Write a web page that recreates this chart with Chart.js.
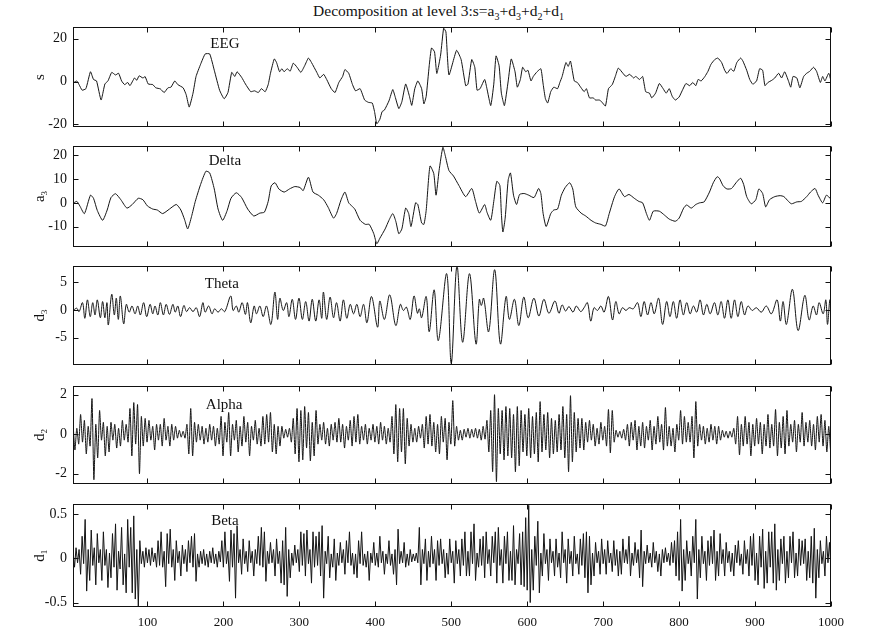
<!DOCTYPE html>
<html>
<head>
<meta charset="utf-8">
<script src="https://cdn.jsdelivr.net/npm/chart.js@4/dist/chart.umd.min.js"></script>
<style>
html, body { margin: 0; padding: 0; background: #fff; }
#wrap { position: relative; width: 877px; height: 644px; overflow: hidden; }
#title { position: absolute; left: 0; top: 2px; width: 877px; text-align: center;
  font: 15.5px "Liberation Serif", "Times New Roman", serif; color: #111; line-height: 17px; }
#title sub { font-size: 10px; }
canvas { position: absolute; left: 0; }
</style>
</head>
<body>
<div id="wrap">
  <div id="title">Decomposition at level 3:s=a<sub>3</sub>+d<sub>3</sub>+d<sub>2</sub>+d<sub>1</sub></div>
  <canvas id="c1"></canvas>
  <canvas id="c2"></canvas>
  <canvas id="c3"></canvas>
  <canvas id="c4"></canvas>
  <canvas id="c5"></canvas>
</div>
<script>
// sample ticks shared by all panels
const xTickVals = [100, 200, 300, 400, 500, 600, 700, 800, 900, 1000];

// y ticks of each panel
const eegTicks = [-20, 0, 20];
const deltaTicks = [-10, 0, 10, 20];
const thetaTicks = [-5, 0, 5];
const alphaTicks = [-2, 0, 2];
const betaTicks = [-0.5, 0, 0.5];

// s : [sample, value]
const eegPoints = [[3,-0.4],[7,0.3],[10,-1.4],[14,-4],[19,-3.3],[25,4.6],[29,1],[33,0.3],[39,-8.6],[44,-1.1],[48,0.3],[53,4.3],[58,3.1],[62,3.9],[66,0.3],[70,-1.4],[74,-0.4],[77,-1.9],[83,1.7],[86,0.6],[89,2.7],[94,1.7],[97,2.3],[101,-1.1],[107,-1.4],[111,-2.9],[117,-3.4],[122,-5.1],[127,-2.9],[131,-2.6],[136,0.3],[140,-1.4],[147,-2.9],[151,-6.1],[155,-11.9],[160,-5.4],[164,2.4],[170,8.1],[176,12.9],[182,12.9],[188,5.3],[195,-4],[201,-8],[206,-5.1],[211,4.3],[215,2.4],[218,4.6],[224,2],[229,-1.1],[236,-4.7],[241,-4.3],[246,-5.1],[250,-3.3],[255,-4.7],[259,-1.4],[262,3.9],[267,10.6],[270,8.9],[274,4.6],[277,6],[280,4.6],[284,6],[288,4.9],[292,8.6],[297,6.7],[302,4.3],[307,7.4],[312,11],[316,8.9],[323,4.3],[327,1.7],[332,3.4],[336,1],[342,-3.3],[347,-5.1],[352,-0.4],[357,2.4],[360,5.6],[365,3.9],[370,-1.4],[374,-4.3],[380,-3.3],[386,-8.6],[391,-9.7],[396,-10],[399,-14],[402,-19.7],[406,-17.6],[409,-14],[412,-13.3],[418,-9],[423,-3.7],[426,-6.9],[431,-12.6],[435,-9.4],[440,-1.1],[445,-6.9],[448,-11.1],[452,-3.3],[456,0.3],[461,-3.3],[464,-10.4],[467,-6.9],[471,7.4],[474,15.7],[478,13.9],[481,3.8],[486,12.4],[490,24.9],[493,23.2],[497,3.1],[507,14.6],[513,10.3],[519,-1.9],[522,-1.2],[527,10.3],[531,6.7],[534,-4],[538,-3.3],[544,1],[547,-3.3],[552,-11.2],[556,-1.2],[559,12],[563,7.4],[566,-5.4],[570,-11.2],[575,0.3],[579,10.6],[584,4.6],[587,-2.6],[591,1],[594,6.7],[598,4.6],[601,5.3],[605,0.3],[608,2.4],[613,4.6],[618,6],[621,-1.2],[624,-8],[627,-10],[631,-4.7],[635,-2.6],[640,-3.3],[643,-0.4],[646,2.4],[651,8.9],[654,7.1],[657,9.6],[662,0.3],[666,-0.4],[671,-2.9],[675,-4.7],[678,-3.3],[682,-7.6],[687,-7.6],[690,-8.6],[695,-8.6],[698,-9.4],[703,-11.4],[707,-3.3],[712,-1.4],[716,2.4],[720,6.3],[726,3.9],[730,2.4],[735,3.4],[740,1.7],[743,2.4],[748,1],[752,2.4],[756,-4.7],[761,-5.4],[764,-7.6],[769,-5.4],[774,-0.9],[779,-3.3],[783,-5.4],[787,-3.3],[791,-6.9],[795,-8.6],[800,-7.2],[804,-4.3],[809,-0.9],[814,-1.9],[818,-0.4],[822,-1.9],[825,1],[829,0.3],[834,2.4],[838,4.8],[842,8.1],[847,10.3],[851,11],[856,8.9],[860,5.3],[863,3.8],[868,6],[872,4.8],[876,8.9],[881,11],[884,9.6],[889,5.3],[893,1],[897,-1.2],[902,0.3],[906,6],[910,5.3],[913,-1.9],[917,-0.4],[922,0.6],[926,1.7],[931,3.9],[935,1.7],[939,4.6],[944,0.3],[947,-2.6],[950,2.4],[955,1.7],[959,-2.9],[964,2.4],[968,3.9],[972,4.8],[977,6.7],[981,4.8],[986,-0.4],[989,2.4],[992,0.3],[997,3.9],[1000,0.3]];

// a3 (delta)
const deltaPoints = [[3,0],[7,0.6],[11,-1.3],[17,-4.5],[25,3.2],[29,1.9],[34,-3.2],[41,-7.3],[47,-3],[52,2.2],[58,3.8],[65,1.3],[73,-2.2],[80,-0.7],[88,1.9],[94,1.3],[100,-1.3],[107,-2.6],[113,-3],[120,-4.5],[129,-2.6],[138,-0.7],[144,-3],[149,-7.1],[153,-10.9],[158,-5.8],[163,0.6],[170,7.7],[177,13.2],[182,12.5],[188,5.8],[193,-2.6],[199,-7.3],[205,-3.2],[210,1.9],[217,4.2],[224,2.2],[232,-2.6],[240,-5.5],[248,-4.3],[254,-3.9],[259,0.6],[263,7.1],[268,8.4],[273,5.8],[280,4.5],[287,5.8],[294,6.8],[301,6.4],[305,5.1],[312,10.7],[318,4.5],[325,3.2],[332,1.3],[338,-1.9],[345,-6.4],[349,-4.5],[355,1.3],[360,4.5],[365,0],[369,-1.3],[373,-2.6],[380,-7.3],[387,-9],[392,-9],[398,-12.9],[402,-17.1],[406,-14.8],[413,-10.9],[418,-7.3],[423,-4.5],[427,-7.7],[431,-12.9],[435,-10.9],[440,-2.2],[444,-4.5],[447,-9.9],[453,0],[456,-0.7],[461,-8.4],[464,-9],[467,-3.2],[472,15.4],[477,12.2],[480,3.2],[484,13.5],[489,23.2],[492,19.9],[497,13.5],[503,11.2],[510,7.3],[519,2.6],[527,6],[532,0.6],[537,-4.3],[544,-0.7],[547,-3.9],[552,-7.3],[556,0.6],[560,9],[564,7.3],[566,-4.5],[568,-12.2],[571,-6.4],[575,9.6],[578,12.5],[582,3.2],[586,-0.7],[590,3.5],[596,3.9],[602,3.2],[609,2.2],[615,6],[618,3.9],[621,-4.5],[625,-9.9],[631,-4.5],[635,-3],[640,-2.6],[645,3.2],[650,6.4],[656,8.4],[660,5.8],[664,-1.7],[671,-4.3],[677,-5.5],[684,-7.3],[690,-8.4],[697,-9],[703,-9.7],[708,-4.5],[715,2.6],[721,5.8],[728,2.6],[734,3.5],[741,1.9],[747,0.6],[752,0],[757,-4.5],[761,-7.3],[766,-3.5],[774,-3.5],[781,-5.2],[787,-6.8],[795,-7.7],[800,-6.4],[806,-2.2],[810,-0.9],[816,-2.2],[822,-0.7],[827,0],[833,0.4],[840,4.5],[845,8.4],[850,10.9],[853,10.3],[858,7.1],[863,5.8],[869,6],[875,8.4],[881,10.3],[885,7.7],[889,2.6],[895,-0.4],[901,1.3],[905,5.8],[910,3.9],[914,-1.7],[919,1.3],[926,2.6],[933,3],[938,2.6],[944,0.6],[948,-0.4],[955,0.4],[961,0.6],[968,2.6],[973,4.5],[979,6],[983,3.2],[989,0],[994,3.2],[1000,1.5]];

// d3 (theta)
const thetaPoints = [[3,0],[7,0.3],[10,-0.3],[14.5,1.3],[17.6,-1.5],[21,1.8],[24.7,-1.2],[28,1.3],[31,-0.9],[34,1.8],[38,-1.4],[41,1.5],[44,-1.4],[46.7,1.3],[48.5,-2.7],[53,2.8],[56.4,-0.9],[59,2.1],[61.7,-1.7],[64.3,2.5],[68.7,-2.5],[72.2,1],[76,-0.4],[79.7,0.7],[83.7,-0.7],[87.2,0.7],[90.7,-0.9],[95,1.3],[99,-1.2],[103.5,1],[107,-0.7],[110,0.7],[113.7,-0.9],[117,1.3],[121,-0.9],[124.7,1],[129,-0.8],[133.5,1],[136.6,-0.4],[140,0.7],[143.6,-1.2],[148,0.8],[151.5,-0.3],[155.5,0.4],[160,-0.3],[164.3,0.4],[168.7,-1.2],[173,1.3],[176,-0.4],[180.6,0.7],[185,-0.7],[188.5,0.2],[193,-0.4],[197.4,0.2],[201.8,-0.3],[209.7,2.5],[212.8,-0.1],[217,0.7],[220.3,-0.4],[224.7,1.3],[229,-0.8],[231.7,1.3],[236,-2.3],[240.5,0.7],[243.6,-0.7],[248,0.7],[252.4,-1.2],[256.8,0.7],[262.6,-2.6],[267.8,3.2],[271.4,-1.7],[274.4,2.1],[278.8,-0.1],[283.3,1.3],[286.3,-1.2],[290.7,1.9],[295,-1.7],[299.5,2.1],[304,-1.7],[308.4,1.5],[312.8,-2],[317,1.9],[321.6,-2],[326,1.8],[329.5,-1.5],[331.7,3.2],[336,-1.7],[340.5,2.3],[345,-1.4],[349,1.3],[353.7,-2],[358,1.8],[362.5,-1.5],[367,1],[371.4,-0.7],[375.7,1],[380,-1.2],[384.6,1],[389,-2.3],[395,2.4],[403,-3.1],[406,1.6],[412,-1.7],[419,2.7],[427,-2.8],[433,1],[437,-0.1],[441,0.5],[446,-1.7],[451,2.5],[455.5,-0.6],[458,0.2],[461,-1.4],[467,2.4],[471,-3.9],[477.5,3.6],[483,-5.5],[494,6.5],[500,-9.6],[507.5,7.9],[515,-5.8],[524,6.5],[532.6,-6.1],[537,1.9],[539.6,0.8],[542.7,2.1],[549.3,-3.9],[557.2,7.2],[564.7,-6.1],[572.2,2.4],[576.6,-1.7],[583.2,1.9],[589,-2.8],[595.5,2.3],[601.3,-1.4],[608.8,2.1],[615.4,-1.1],[622,1.9],[628.6,-0.6],[636.5,1.6],[641.8,-0.6],[646,0.9],[650.6,-0.2],[655,0.6],[660.3,-0.4],[664.7,0.7],[670.5,-0.3],[674.9,0.4],[679.3,1.3],[683.7,-2],[688,0.4],[692.5,-0.1],[697,0.7],[701.3,-0.4],[707,2.4],[712.3,-1.8],[716.7,1.5],[721,-0.7],[725.5,0.4],[730,-0.1],[734.3,0.4],[739.6,0.2],[745.3,1.3],[749.7,-1.2],[754,1.5],[758.5,-0.9],[763,1.3],[767.3,-0.7],[773,2.1],[778.3,-2.6],[783.6,1.5],[788,-1.2],[792.4,1.5],[796.8,-1.5],[801.2,1.8],[805.6,-0.9],[810,1.3],[814.5,-0.7],[818.8,0.7],[823.2,-0.4],[827.7,1.8],[832,-0.9],[836.5,1],[840.9,-0.7],[846.6,1.3],[851,-0.9],[855.4,1.5],[859.8,-1.5],[864.2,1.8],[868.6,-1.5],[873,1.8],[877.4,-1.2],[881.8,1.5],[886.2,-0.9],[890.6,0.7],[896.4,-0.1],[901.6,0.4],[908.2,-0.4],[914.8,0.7],[921.5,-0.7],[929,1.8],[933.3,-2],[936.9,1.5],[941.3,-2.6],[949.2,3.7],[956.7,-3.7],[965.5,2.6],[971.2,-1.8],[976.5,0.7],[980.9,-0.9],[984.4,1.3],[989.7,-0.7],[993.2,1.8],[995.4,-2.6],[998.5,1.8],[1000,-0.1]];

// d2 (alpha), one value every 2.5 samples from sample 2
const alphaStart = 2, alphaStep = 2.5;
const alphaValues = [
  0.6,-0.8,0.3,-0.5,1.0,-0.4,0.7,-1.0,0.4,-0.6,
  1.8,-2.3,0.5,-1.2,1.2,-0.3,0.6,-1.1,0.4,-0.9,
  0.6,-0.3,0.5,-0.7,0.3,-0.6,0.7,-0.3,0.5,-0.4,
  1.3,-1.1,1.6,-0.5,1.5,-2.0,0.9,-0.6,0.8,-0.4,
  0.7,-0.3,0.4,-0.8,0.5,-0.3,0.5,-0.6,0.8,-0.3,
  0.4,-0.6,0.5,-0.3,0.4,-0.2,0.2,-0.15,0.15,-0.2,
  0.5,-1.0,1.3,-1.1,0.6,-0.4,0.5,-0.3,0.4,-0.5,
  0.3,-0.4,0.5,-0.3,0.4,-0.6,0.3,-0.5,0.9,-1.1,
  0.6,-0.4,1.1,-1.1,0.5,-0.3,0.7,-0.9,0.4,-0.6,
  0.9,-0.4,0.6,-1.1,0.4,-0.3,0.7,-0.5,0.3,-0.6,
  0.9,-0.5,1.0,-0.4,1.1,-0.9,0.5,-1.0,0.4,-0.6,
  0.4,-0.2,0.25,-0.15,0.3,-0.4,0.8,-1.0,1.3,-1.4,
  1.2,-1.3,1.4,-0.7,1.1,-1.35,0.6,-1.1,1.2,-0.5,
  0.5,-0.3,0.6,-0.5,0.3,-0.6,0.5,-0.3,0.6,-0.4,
  0.8,-0.4,0.5,-0.7,0.4,-0.3,0.7,-0.6,0.9,-0.4,
  1.0,-0.5,0.4,-0.3,0.5,-0.5,0.3,-0.3,0.5,-0.4,
  0.4,-0.5,0.6,-0.3,0.4,-0.5,0.3,-0.4,0.9,-1.0,
  1.5,-1.4,1.3,-0.9,1.3,-1.5,0.8,-0.6,0.5,-0.4,
  0.3,-0.4,0.4,-0.2,0.5,-0.7,0.9,-0.5,1.0,-0.6,
  0.6,-0.9,0.5,-1.0,0.9,-0.4,0.8,-1.3,0.6,-0.5,
  1.7,-0.6,0.4,-0.3,0.2,-0.3,0.25,-0.15,0.3,-0.2,
  0.25,-0.15,0.3,-0.2,0.25,-0.3,0.4,-0.25,0.7,-0.9,
  1.2,-1.9,2.0,-2.4,1.3,-1.0,1.2,-1.3,1.4,-1.1,
  1.3,-1.2,1.0,-1.9,1.4,-1.6,1.2,-0.9,1.0,-1.1,
  1.3,-1.2,0.9,-1.0,1.1,-1.4,1.65,-0.9,1.0,-0.8,
  1.1,-1.2,0.8,-1.0,0.7,-0.9,1.0,-0.8,1.4,-1.2,
  1.0,-1.9,1.95,-1.4,1.1,-0.9,0.8,-0.7,0.8,-0.8,
  0.6,-0.4,0.7,-0.3,0.5,-0.6,0.3,-0.5,0.6,-0.3,
  0.4,-0.6,1.25,-0.95,1.2,-0.4,0.2,-0.15,0.15,-0.2,
  0.25,-0.3,0.5,-0.6,0.6,-0.3,0.7,-0.8,0.4,-0.6,
  0.6,-0.7,0.4,-0.3,0.7,-0.8,0.4,-0.5,0.9,-0.4,
  0.5,-0.8,1.35,-0.6,0.4,-0.6,0.3,-0.9,0.5,-0.3,
  1.2,-0.5,0.9,-0.4,0.6,-0.4,0.9,-1.2,1.65,-0.6,
  0.5,-0.3,0.4,-0.5,0.3,-0.4,0.5,-0.3,0.4,-0.5,
  0.4,-0.3,0.2,-0.15,0.15,-0.2,0.15,-0.15,0.3,-0.5,
  0.9,-1.05,0.5,-0.6,0.9,-0.5,0.6,-1.1,0.5,-0.6,
  0.8,-0.5,0.6,-1.0,0.5,-0.6,1.0,-0.7,0.5,-0.6,
  1.25,-1.1,0.6,-0.7,0.9,-1.0,1.2,-0.6,0.5,-0.4,
  0.7,-0.9,0.5,-0.4,1.1,-0.6,0.6,-0.4,0.7,-0.6,
  0.5,-0.8,0.9,-0.4,1.0,-0.6,0.7,-0.9,0.4,-0.9
];

// d1 (beta), one value every 2 samples from sample 2
const betaStart = 2, betaStep = 2;
const betaValues = [
  0.08,-0.1,0.12,-0.05,0.1,-0.18,0.25,-0.06,0.44,-0.37,0.1,-0.25,0.32,-0.08,0.12,-0.3,0.28,-0.05,0.1,-0.25,
  0.3,-0.08,0.1,-0.33,0.06,-0.22,0.28,-0.1,0.39,-0.36,0.08,-0.12,0.35,-0.3,0.05,-0.39,0.44,-0.1,0.35,-0.39,
  0.48,-0.46,0.1,-0.55,0.2,-0.06,0.08,-0.1,0.12,-0.05,0.1,-0.08,0.12,-0.04,0.06,-0.1,0.2,-0.08,0.3,-0.1,
  0.08,-0.32,0.28,-0.06,0.33,-0.1,0.1,-0.25,0.2,-0.05,0.08,-0.2,0.15,-0.06,0.1,-0.15,0.2,-0.05,0.25,-0.1,
  0.28,-0.26,0.05,-0.1,0.08,-0.06,0.1,-0.08,0.05,-0.1,0.08,-0.05,0.12,-0.06,0.05,-0.1,0.08,-0.04,0.2,-0.1,
  0.3,-0.06,0.08,-0.26,0.32,-0.1,0.28,-0.45,0.37,-0.05,0.1,-0.18,0.22,-0.06,0.08,-0.15,0.2,-0.05,0.08,-0.2,
  0.1,-0.06,0.25,-0.08,0.35,-0.1,0.3,-0.26,0.08,-0.06,0.18,-0.05,0.1,-0.2,0.22,-0.06,0.08,-0.28,0.2,-0.3,
  0.35,-0.43,0.1,-0.22,0.06,-0.08,0.15,-0.05,0.1,-0.15,0.3,-0.08,0.28,-0.2,0.32,-0.06,0.1,-0.28,0.3,-0.1,
  0.25,-0.08,0.3,-0.2,0.37,-0.45,0.08,-0.06,0.25,-0.22,0.05,-0.1,0.22,-0.25,0.06,-0.08,0.18,-0.05,0.1,-0.18,
  0.2,-0.05,0.3,-0.08,0.06,-0.18,0.05,-0.22,0.2,-0.06,0.3,-0.08,0.05,-0.1,0.08,-0.25,0.06,-0.05,0.18,-0.08,
  0.06,-0.1,0.25,-0.05,0.08,-0.18,0.05,-0.06,0.2,-0.08,0.05,-0.18,0.1,-0.3,0.33,-0.06,0.08,-0.05,0.18,-0.1,
  0.05,-0.08,0.1,-0.04,0.05,-0.03,0.06,-0.05,0.35,-0.3,0.1,-0.06,0.22,-0.25,0.08,-0.1,0.25,-0.06,0.1,-0.25,
  0.2,-0.08,0.22,-0.06,0.1,-0.22,0.06,-0.18,0.22,-0.05,0.08,-0.28,0.2,-0.06,0.1,-0.2,0.22,-0.08,0.3,-0.2,
  0.08,-0.2,0.3,-0.06,0.39,-0.25,0.06,-0.1,0.22,-0.08,0.25,-0.22,0.3,-0.06,0.1,-0.2,0.25,-0.05,0.3,-0.28,
  0.35,-0.08,0.1,-0.28,0.25,-0.06,0.3,-0.25,0.08,-0.25,0.37,-0.3,0.1,-0.06,0.28,-0.3,0.3,-0.32,0.46,-0.36,
  0.6,-0.5,0.1,-0.36,0.25,-0.08,0.42,-0.39,0.06,-0.2,0.28,-0.06,0.1,-0.25,0.22,-0.05,0.08,-0.2,0.22,-0.1,
  0.06,-0.22,0.3,-0.05,0.1,-0.28,0.22,-0.06,0.08,-0.2,0.25,-0.06,0.05,-0.18,0.22,-0.08,0.28,-0.22,0.3,-0.39,
  0.25,-0.3,0.06,-0.2,0.18,-0.05,0.08,-0.18,0.22,-0.06,0.1,-0.18,0.2,-0.05,0.06,-0.15,0.2,-0.08,0.1,-0.2,
  0.08,-0.18,0.22,-0.05,0.1,-0.06,0.25,-0.2,0.06,-0.08,0.18,-0.05,0.1,-0.22,0.32,-0.32,0.08,-0.06,0.15,-0.05,
  0.06,-0.1,0.18,-0.05,0.08,-0.15,0.05,-0.2,0.1,-0.05,0.12,-0.04,0.06,-0.08,0.18,-0.05,0.2,-0.2,0.3,-0.25,
  0.44,-0.37,0.1,-0.25,0.2,-0.06,0.08,-0.2,0.25,-0.05,0.44,-0.46,0.1,-0.22,0.25,-0.06,0.08,-0.25,0.2,-0.08,
  0.25,-0.06,0.32,-0.25,0.08,-0.2,0.28,-0.06,0.1,-0.2,0.18,-0.05,0.08,-0.15,0.06,-0.2,0.15,-0.05,0.2,-0.08,
  0.05,-0.18,0.2,-0.06,0.1,-0.2,0.25,-0.08,0.28,-0.25,0.06,-0.3,0.25,-0.1,0.33,-0.34,0.08,-0.28,0.3,-0.1,
  0.3,-0.28,0.39,-0.36,0.1,-0.25,0.22,-0.06,0.25,-0.28,0.08,-0.22,0.25,-0.05,0.3,-0.22,0.06,-0.2,0.22,-0.08,
  0.2,-0.06,0.22,-0.25,0.08,-0.22,0.25,-0.28,0.34,-0.45,0.1,-0.22,0.2,-0.06,0.08,-0.2,0.25,-0.05,0.18,-0.15
];

const SERIF = '"Liberation Serif", "Times New Roman", serif';
Chart.defaults.font.family = SERIF;
Chart.defaults.color = '#111';

const pairs = list => list.map(p => ({ x: p[0], y: p[1] }));
const stepped = (vals, start, step) => vals.map((v, i) => ({ x: start + i * step, y: v }));

// box, inward ticks, panel name and y label
const framePlugin = {
  id: 'frame',
  afterDatasetsDraw(chart, args, opts) {
    const { ctx, chartArea: a } = chart;
    const xs = chart.scales.x, ys = chart.scales.y;
    const L = Math.round(a.left) + 0.5, R = Math.round(a.right) - 0.5;
    const T = Math.round(a.top) + 0.5, B = Math.round(a.bottom) - 0.5;
    ctx.save();
    ctx.strokeStyle = '#111';
    ctx.lineWidth = 1;
    ctx.strokeRect(L, T, R - L, B - T);
    ctx.beginPath();
    xTickVals.forEach(v => {
      const px = Math.round(xs.getPixelForValue(v)) + 0.5;
      ctx.moveTo(px, T); ctx.lineTo(px, T + 5);
      ctx.moveTo(px, B); ctx.lineTo(px, B - 5);
    });
    opts.yTicks.forEach(v => {
      const py = Math.round(ys.getPixelForValue(v)) + 0.5;
      ctx.moveTo(L, py); ctx.lineTo(L + 5, py);
      ctx.moveTo(R, py); ctx.lineTo(R - 5, py);
    });
    ctx.stroke();

    ctx.fillStyle = '#111';
    ctx.font = '15px ' + SERIF;
    ctx.textAlign = 'center';
    ctx.textBaseline = 'middle';
    ctx.fillText(opts.name, xs.getPixelForValue(opts.nameAt[0]), ys.getPixelForValue(opts.nameAt[1]));

    // rotated y label with optional subscript
    ctx.translate(40, (a.top + a.bottom) / 2);
    ctx.rotate(-Math.PI / 2);
    ctx.textAlign = 'left';
    ctx.font = '15px ' + SERIF;
    const wb = ctx.measureText(opts.label).width;
    ctx.font = '9px ' + SERIF;
    const wsub = opts.sub ? ctx.measureText(opts.sub).width : 0;
    const x0 = -(wb + wsub) / 2;
    ctx.font = '15px ' + SERIF;
    ctx.fillText(opts.label, x0, 0);
    if (opts.sub) {
      ctx.font = '9px ' + SERIF;
      ctx.fillText(opts.sub, x0 + wb, 5);
    }
    ctx.restore();
  }
};

const panels = [
  { id: 'c1', top: 23, bottom: 131, min: -21, max: 25.3, yTicks: eegTicks, label: 's', sub: '',
    name: 'EEG', nameAt: [202, 17.4], data: pairs(eegPoints), tension: 0.15, width: 1 },
  { id: 'c2', top: 142, bottom: 251, min: -18.3, max: 23.6, yTicks: deltaTicks, label: 'a', sub: '3',
    name: 'Delta', nameAt: [202, 17.5], data: pairs(deltaPoints), tension: 0.2, width: 1 },
  { id: 'c3', top: 262, bottom: 369, min: -9.8, max: 7.8, yTicks: thetaTicks, label: 'd', sub: '3',
    name: 'Theta', nameAt: [198, 4.6], data: pairs(thetaPoints), tension: 0.35, width: 1 },
  { id: 'c4', top: 382, bottom: 488, min: -2.5, max: 2.42, yTicks: alphaTicks, label: 'd', sub: '2',
    name: 'Alpha', nameAt: [201, 1.5], data: stepped(alphaValues, alphaStart, alphaStep), tension: 0.2, width: 1 },
  { id: 'c5', top: 500, bottom: 607, min: -0.55, max: 0.61, yTicks: betaTicks, label: 'd', sub: '1',
    name: 'Beta', nameAt: [202, 0.42], data: stepped(betaValues, betaStart, betaStep), tension: 0, width: 1 }
];

panels.forEach((p, i) => {
  const last = i === panels.length - 1;
  const padTop = 10, padBottom = last ? 7 : 10, xAxisH = last ? 30 : 0;
  const canvas = document.getElementById(p.id);
  canvas.width = 877;
  canvas.height = (p.bottom - p.top) + padTop + padBottom + xAxisH;
  canvas.style.top = (p.top - padTop) + 'px';

  new Chart(canvas, {
    type: 'line',
    data: {
      datasets: [{
        data: p.data,
        borderColor: '#151515',
        borderWidth: p.width,
        pointRadius: 0,
        tension: p.tension,
        fill: false
      }]
    },
    options: {
      responsive: false,
      animation: false,
      events: [],
      layout: { padding: { top: padTop, bottom: padBottom, left: 0, right: 46 } },
      plugins: {
        legend: { display: false },
        tooltip: { enabled: false },
        frame: { yTicks: p.yTicks, name: p.name, nameAt: p.nameAt, label: p.label, sub: p.sub }
      },
      scales: {
        x: {
          type: 'linear',
          min: 2,
          max: 1000,
          display: last,
          afterFit: s => { s.height = xAxisH; },
          afterBuildTicks: s => { s.ticks = xTickVals.map(v => ({ value: v })); },
          grid: { display: false, drawTicks: false },
          border: { display: false },
          ticks: { autoSkip: false, maxRotation: 0, padding: 8, color: '#111',
                   font: { size: 13 }, callback: v => String(v) }
        },
        y: {
          type: 'linear',
          min: p.min,
          max: p.max,
          afterFit: s => { s.width = 73; },
          afterBuildTicks: s => { s.ticks = p.yTicks.map(v => ({ value: v })); },
          grid: { display: false, drawTicks: false },
          border: { display: false },
          ticks: { padding: 6, color: '#111', font: { size: 14 }, callback: v => String(v) }
        }
      }
    },
    plugins: [framePlugin]
  });
});
</script>
</body>
</html>
